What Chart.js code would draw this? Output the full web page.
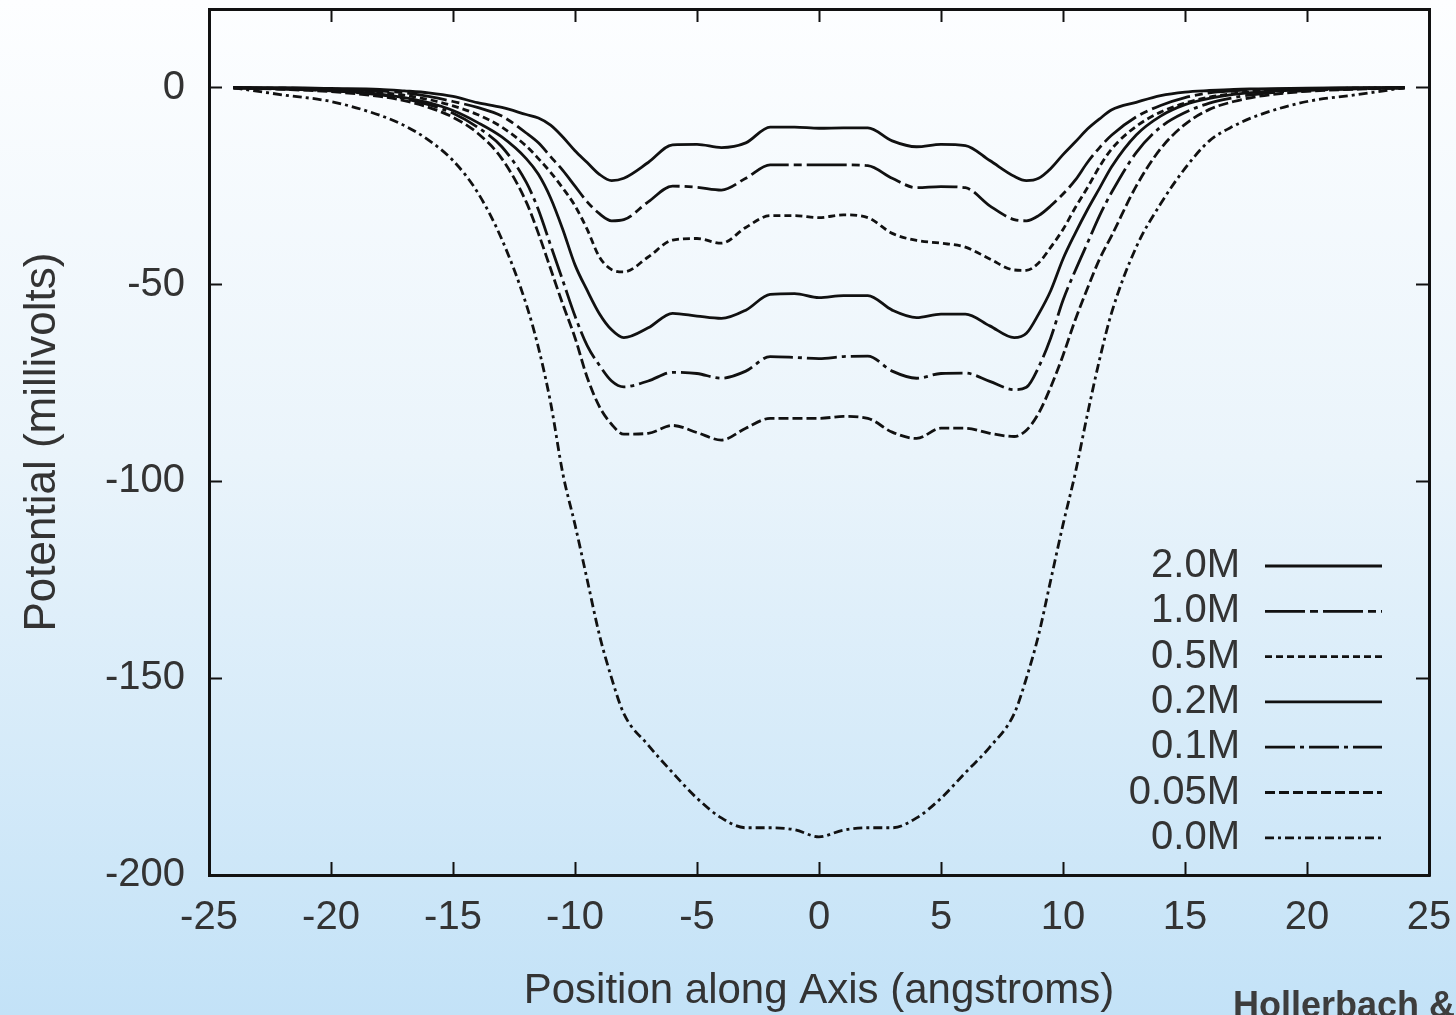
<!DOCTYPE html>
<html>
<head>
<meta charset="utf-8">
<script src="https://cdn.jsdelivr.net/npm/chart.js@4.4.1/dist/chart.umd.min.js"></script>
<style>
  html, body { margin: 0; padding: 0; overflow: hidden; }
  body {
    width: 1456px; height: 1015px; position: relative;
    background: linear-gradient(to bottom, #fdfeff 0%, #eaf4fb 45%, #c3e2f7 100%);
    font-family: "Liberation Sans", Arial, sans-serif;
  }
  #wrap { position: absolute; left: 0; top: 0; width: 1456px; height: 1015px; }
  #credit {
    position: absolute; left: 1233px; top: 987px; white-space: nowrap;
    font: bold 36px/1 "Liberation Sans", Arial, sans-serif; color: #3d3d3d;
  }
</style>
</head>
<body>
<div id="wrap"><canvas id="potChart" width="1456" height="1015"></canvas></div>
<div id="credit">Hollerbach &amp;</div>
<script>
// posiciones a lo largo del eje (angstroms)
const xs = [-24, -22, -20, -18, -17, -16, -15, -14, -13, -12, -11.5, -11, -10.5, -10, -9.5, -9, -8.5, -8,
  -7, -6, -5, -4, -3, -2, -1, 0, 1, 2, 3, 4, 5, 6, 7,
  8, 8.5, 9, 9.5, 10, 10.5, 11, 11.5, 12, 13, 14, 15, 16, 17, 18, 20, 22, 24];

// potencial (mV) para cada concentracion
const s20 = [0, 0, -0.2, -0.4, -0.8, -1.3, -2.2, -3.8, -5.0, -6.8, -7.7, -9.5, -12.5, -16, -19, -22, -23.6, -23,
  -19, -14.5, -14.4, -15.2, -14, -10, -10, -10.3, -10.2, -10.2, -13.5, -15, -14.4, -14.7, -18.5,
  -22.5, -23.6, -23, -20.5, -17, -13.8, -10.5, -7.9, -5.6, -3.7, -2, -1.1, -0.7, -0.4, -0.3, -0.1, 0, 0];
const s10 = [0, -0.1, -0.3, -0.8, -1.3, -2.2, -3.5, -5.0, -7.2, -11.5, -14, -17.5, -21, -25, -29, -32, -33.8, -33.5,
  -29, -25, -25.3, -26, -23, -19.6, -19.6, -19.6, -19.6, -19.8, -23, -25.4, -25.1, -25.4, -30,
  -33.5, -33.8, -32.5, -30, -27, -23.5, -19, -15.2, -12, -7.4, -4.5, -2.5, -1.3, -0.8, -0.5, -0.2, -0.1, 0];
const s05 = [0, -0.2, -0.5, -1.2, -1.9, -3, -4.6, -6.8, -10, -14.8, -18, -21.5, -25.5, -30, -36, -43, -46.2, -46.8,
  -43, -38.7, -38.3, -39.5, -35.5, -32.5, -32.5, -33, -32.3, -33, -37, -38.8, -39.5, -40.5, -43.5,
  -46.3, -46.4, -44.5, -40.5, -36, -30.5, -25.4, -20, -15.5, -9.8, -6.2, -3.9, -2.4, -1.5, -0.9, -0.4, -0.1, 0];
const s02 = [0, -0.3, -0.7, -1.6, -2.5, -3.8, -5.8, -8.8, -12.5, -18, -22, -28, -36, -45, -51.5, -57.4, -61.5, -63.5,
  -61, -57.3, -58, -58.6, -56.5, -52.5, -52.3, -53.3, -52.8, -52.8, -56.5, -58.4, -57.5, -57.5, -60.5,
  -63.5, -62.4, -57.5, -51.5, -43.5, -37, -31, -25.5, -20, -12, -7.2, -4.3, -2.7, -1.7, -1.1, -0.5, -0.2, 0];
const s01 = [0, -0.3, -0.8, -1.8, -2.8, -4.3, -6.5, -10, -15, -24, -31, -40, -49, -58, -65.5, -70.5, -74.5, -76,
  -74.5, -72.3, -72.6, -73.8, -72, -68.3, -68.5, -68.8, -68.3, -68.2, -72, -73.8, -72.6, -72.5, -74.6,
  -76.7, -76.1, -71, -63.5, -54, -46.5, -39.5, -32.5, -26.5, -16.5, -10, -6.3, -3.9, -2.5, -1.6, -0.7, -0.3, 0];
const s005 = [0, -0.4, -1, -2.2, -3.3, -5, -7.5, -11.5, -18, -29, -37, -46, -55, -63.5, -73.6, -81, -85.5, -88,
  -87.8, -85.8, -87.6, -89.5, -86.5, -84, -84, -84, -83.5, -84, -87.5, -89.1, -86.5, -86.5, -87.8,
  -88.6, -87, -82.7, -76, -68, -59, -51, -43.5, -37.5, -25, -15.5, -9.3, -5.5, -3.5, -2.2, -0.9, -0.4, 0];
const s00 = [0, -1.8, -3.5, -7, -9.6, -13.3, -18.5, -26.5, -38.5, -55, -66, -80, -98, -111, -125, -139, -150, -159,
  -167, -174, -180.5, -185.5, -188, -188, -188.5, -190.3, -188.6, -188, -188, -185.5, -180.5, -174, -167.5,
  -159, -150, -139, -125, -111, -98, -83, -69, -57, -40.5, -29.5, -20.5, -13.5, -9.7, -7, -3.5, -1.8, 0];

const seriesLabels = ['2.0M', '1.0M', '0.5M', '0.2M', '0.1M', '0.05M', '0.0M'];
const seriesValues = [s20, s10, s05, s02, s01, s005, s00];

const xTicks = [-25, -20, -15, -10, -5, 0, 5, 10, 15, 20, 25];
const yTicks = [0, -50, -100, -150, -200];

// estilos de linea tipo gnuplot
const dashes = [[], [40, 5, 8, 5], [7, 4], [], [30, 5, 4, 5], [10, 4], [9, 4, 3, 4]];

const FONT = '"Liberation Sans", Arial, sans-serif';
const INK = '#111';
const TXT = '#333';

const datasets = seriesValues.map((vals, i) => ({
  label: seriesLabels[i],
  data: xs.map((x, j) => ({ x: x, y: vals[j] })),
  borderColor: INK,
  borderWidth: 2.8,
  borderDash: dashes[i],
  pointRadius: 0,
  fill: false,
  cubicInterpolationMode: 'monotone'
}));

// leyenda estilo gnuplot: texto a la izquierda, muestra de linea a la derecha
const keyLegend = {
  id: 'keyLegend',
  afterDatasetsDraw(chart) {
    const ctx = chart.ctx;
    ctx.save();
    ctx.font = '40px ' + FONT;
    ctx.textAlign = 'right';
    ctx.textBaseline = 'middle';
    chart.data.datasets.forEach((ds, i) => {
      const y = 566 + i * 45.3;
      ctx.fillStyle = TXT;
      ctx.fillText(ds.label, 1240, y);
      ctx.strokeStyle = INK;
      ctx.lineWidth = 2.8;
      ctx.setLineDash(ds.borderDash);
      ctx.beginPath();
      ctx.moveTo(1265, y);
      ctx.lineTo(1382, y);
      ctx.stroke();
    });
    ctx.restore();
  }
};

function setTicks(list) {
  return (scale) => { scale.ticks = list.map(v => ({ value: v })); };
}

// fija el tamaño de cada eje y quita el relleno extra que mete Chart.js por las etiquetas
function fixSize(prop, size) {
  return (s) => {
    s[prop] = size;
    s.paddingLeft = 0; s.paddingRight = 0; s.paddingTop = 0; s.paddingBottom = 0;
  };
}

const tickGrid = { drawOnChartArea: false, tickLength: -13, tickWidth: 2, tickColor: INK };
const frame = { color: INK, width: 3 };

new Chart(document.getElementById('potChart'), {
  type: 'line',
  data: { datasets: datasets },
  options: {
    responsive: false,
    animation: false,
    layout: { padding: 0 },
    plugins: { legend: { display: false }, tooltip: { enabled: false } },
    scales: {
      x: {
        type: 'linear', position: 'bottom', min: -25, max: 25,
        afterBuildTicks: setTicks(xTicks),
        afterFit: fixSize('height', 140),
        grid: tickGrid, border: frame,
        ticks: { padding: 32, color: TXT, font: { size: 40, family: FONT }, maxRotation: 0, autoSkip: false },
        title: { display: true, text: 'Position along Axis (angstroms)', color: TXT,
          font: { size: 42, family: FONT, lineHeight: 1.1 }, padding: { top: 0, bottom: 0 } }
      },
      x2: {
        type: 'linear', position: 'top', min: -25, max: 25,
        afterBuildTicks: setTicks(xTicks),
        afterFit: fixSize('height', 9),
        grid: tickGrid, border: frame,
        ticks: { display: false }
      },
      y: {
        type: 'linear', position: 'left', min: -200, max: 20,
        afterBuildTicks: setTicks(yTicks),
        afterFit: fixSize('width', 209),
        grid: tickGrid, border: frame,
        ticks: { padding: 37, color: TXT, font: { size: 40, family: FONT } },
        title: { display: true, text: 'Potential (millivolts)', color: TXT,
          font: { size: 44, family: FONT, lineHeight: 1.1 }, padding: { top: 19, bottom: 0 } }
      },
      y2: {
        type: 'linear', position: 'right', min: -200, max: 20,
        afterBuildTicks: setTicks(yTicks),
        afterFit: fixSize('width', 27),
        grid: tickGrid, border: frame,
        ticks: { display: false }
      }
    }
  },
  plugins: [keyLegend]
});
</script>
</body>
</html>
